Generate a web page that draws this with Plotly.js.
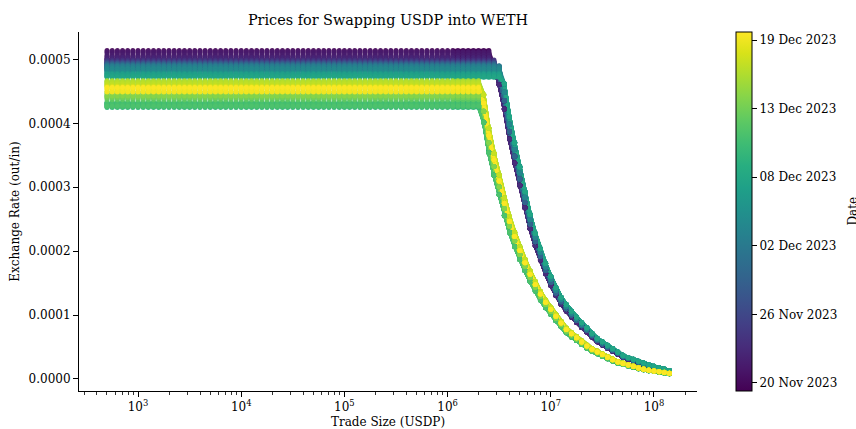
<!DOCTYPE html>
<html><head><meta charset="utf-8">
<script src="https://cdn.plot.ly/plotly-3.0.1.min.js"></script>
<style>html,body{margin:0;padding:0;background:#fff;} #chart{width:856px;height:429px;}</style>
</head><body><div id="chart"></div>
<script>
// Trade sizes (USDP) at which each snapshot quote is plotted
const tradeSizes = [501, 562, 631, 708, 794, 891,
  1000, 1122, 1259, 1413, 1585, 1778, 1995, 2239, 2512, 2818, 3162, 3548, 3981, 4467, 5012, 5623, 6310, 7079, 7943, 8913,
  1.0e4, 1.122e4, 1.259e4, 1.413e4, 1.585e4, 1.778e4, 1.995e4, 2.239e4, 2.512e4, 2.818e4, 3.162e4, 3.548e4, 3.981e4, 4.467e4, 5.012e4, 5.623e4, 6.310e4, 7.079e4, 7.943e4, 8.913e4,
  1.0e5, 1.122e5, 1.259e5, 1.413e5, 1.585e5, 1.778e5, 1.995e5, 2.239e5, 2.512e5, 2.818e5, 3.162e5, 3.548e5, 3.981e5, 4.467e5, 5.012e5, 5.623e5, 6.310e5, 7.079e5, 7.943e5, 8.913e5,
  1.0e6, 1.122e6, 1.259e6, 1.413e6, 1.585e6, 1.778e6, 1.995e6, 2.239e6, 2.512e6, 2.818e6, 3.162e6, 3.548e6, 3.981e6, 4.467e6, 5.012e6, 5.623e6, 6.310e6, 7.079e6, 7.943e6, 8.913e6,
  1.0e7, 1.122e7, 1.259e7, 1.413e7, 1.585e7, 1.778e7, 1.995e7, 2.239e7, 2.512e7, 2.818e7, 3.162e7, 3.548e7, 3.981e7, 4.467e7, 5.012e7, 5.623e7, 6.310e7, 7.079e7, 7.943e7, 8.913e7,
  1.0e8, 1.122e8, 1.259e8, 1.413e8];

// Price-impact curves, for the last 40 trade sizes (1.585e6 .. 1.413e8)
const earlyCurve = [0.000600, 0.000590, 0.000580, 0.000565, 0.000540, 0.000508, 0.000480, 0.000440, 0.000391, 0.000352,
  0.000316, 0.000279, 0.000245, 0.000217, 0.000194, 0.000172, 0.000153, 0.000136, 0.000122, 0.000111,
  0.000101, 0.0000925, 0.0000840, 0.0000765, 0.0000683, 0.0000608, 0.0000555, 0.0000503, 0.0000453, 0.0000402,
  0.0000352, 0.0000322, 0.0000293, 0.0000265, 0.0000237, 0.0000211, 0.0000189, 0.0000167, 0.0000147, 0.0000128];
const lateCurve = [0.000560, 0.000520, 0.000478, 0.000432, 0.000381, 0.000343, 0.000310, 0.000275, 0.000247, 0.000223,
  0.000201, 0.000182, 0.000164, 0.000148, 0.000133, 0.000120, 0.000109, 0.0000980, 0.0000877, 0.0000776,
  0.0000708, 0.0000646, 0.0000580, 0.0000517, 0.0000464, 0.0000424, 0.0000384, 0.0000342, 0.0000302, 0.0000266,
  0.0000243, 0.0000220, 0.0000196, 0.0000173, 0.0000154, 0.0000138, 0.0000126, 0.0000113, 0.0000101, 0.0000089];

// Snapshot times (days after 20 Nov 2023 00:00 UTC) and the flat small-trade rate at each
const snapTime = [0.05,0.45,0.8, 1.15,1.5,1.85, 2.15,2.5,2.85, 3.15,3.5,3.85, 4.15,4.5,4.85, 5.15,5.5,5.85,
  6.15,6.5,6.85, 7.15,7.5,7.85, 8.15,8.5,8.85, 9.15,9.5,9.85, 10.15,10.5,10.85, 11.15,11.5,11.85,
  12.15,12.5,12.85, 13.15,13.5,13.85, 14.15,14.5,14.85, 15.15,15.5,15.85, 16.15,16.5,16.85, 17.15,17.5,17.85,
  18.15,18.5,18.85, 19.15,19.5,19.85, 20.15,20.5,20.85, 21.15,21.5,21.85, 22.15,22.5,22.85, 23.15,23.5,23.85,
  24.15,24.5,24.85, 25.15,25.5,25.85, 26.15,26.5,26.85, 27.15,27.5,27.85, 28.15,28.5,28.85, 29.15,29.5,29.85, 30.3];
const snapLevel = [0.000514,0.000505,0.000500, 0.000510,0.000502,0.000497, 0.000512,0.000507,0.000500,
  0.000503,0.000499,0.000495, 0.000499,0.000495,0.000491, 0.000497,0.000493,0.000489,
  0.000496,0.000492,0.000488, 0.000495,0.000491,0.000487, 0.000494,0.000490,0.000486,
  0.000493,0.000489,0.000485, 0.000492,0.000488,0.000484, 0.000491,0.000487,0.000483,
  0.000490,0.000486,0.000482, 0.000489,0.000485,0.000481, 0.000486,0.000482,0.000479,
  0.000479,0.000476,0.000474, 0.000478,0.000475,0.000473, 0.000477,0.000474,0.000472,
  0.000432,0.000429,0.000426, 0.000431,0.000428,0.000425, 0.000432,0.000429,0.000426,
  0.000433,0.000430,0.000427, 0.000443,0.000440,0.000437, 0.000446,0.000443,0.000440,
  0.000449,0.000446,0.000443, 0.000467,0.000464,0.000461, 0.000466,0.000463,0.000460,
  0.000465,0.000462,0.000459, 0.000458,0.000454,0.000450, 0.000457,0.000453,0.000449, 0.000456];
// Which curve each day follows, and its horizontal placement factor
const dayCurve = ['E','E','E','E','E','E','E','E','E','E','E','E','E','E','E','E','E','E',
  'L','L','L','L','L','L','L','L','L','L','L','L','L'];
const dayCurveScale = [0.96,0.96,0.96,0.96, 0.99,0.99,0.99,0.99,0.99,0.99, 1.02,1.02,1.02,1.02, 1.05,1.05,1.05,1.05,
  0.93,0.93,0.93,0.93, 0.97,0.97,0.97, 1.03,1.03,1.03, 1.0,1.0,1.0];

const colorTickVals = [0.713, 6.5, 12.287, 18.074, 23.861, 29.648];
const colorTickText = ['20 Nov 2023','26 Nov 2023','02 Dec 2023','08 Dec 2023','13 Dec 2023','19 Dec 2023'];
const xTickVals = [1e3, 1e4, 1e5, 1e6, 1e7, 1e8];
const xTickText = ['10<sup>3</sup>','10<sup>4</sup>','10<sup>5</sup>','10<sup>6</sup>','10<sup>7</sup>','10<sup>8</sup>'];
const yTickVals = [0, 0.0001, 0.0002, 0.0003, 0.0004, 0.0005];

// viridis stops (style) used to colour the connecting lines like the markers
const viridisStops = [[0,'#440154'],[0.0627,'#48186a'],[0.1255,'#472d7b'],[0.1882,'#424086'],[0.2510,'#3b528b'],
  [0.3137,'#33638d'],[0.3765,'#2c728e'],[0.4392,'#26828e'],[0.5020,'#21918c'],[0.5647,'#1fa088'],[0.6275,'#28ae80'],
  [0.6902,'#3fbc73'],[0.7529,'#5ec962'],[0.8157,'#84d44b'],[0.8784,'#addc30'],[0.9412,'#d8e219'],[1,'#fde725']];
const CMIN = 0.036, CMAX = 30.325;
function hex(h){return [parseInt(h.slice(1,3),16),parseInt(h.slice(3,5),16),parseInt(h.slice(5,7),16)];}
function viridis(v){
  const f = Math.max(0, Math.min(1, (v - CMIN) / (CMAX - CMIN)));
  for (let j = 1; j < viridisStops.length; j++) {
    if (f <= viridisStops[j][0]) {
      const a = viridisStops[j-1], b = viridisStops[j];
      const u = (f - a[0]) / (b[0] - a[0]);
      const ca = hex(a[1]), cb = hex(b[1]);
      return 'rgb(' + ca.map((c, q) => Math.round(c + (cb[q] - c) * u)).join(',') + ')';
    }
  }
  return '#fde725';
}

const xs = [], ys = [], cs = [];
const lineTraces = [];
const off = tradeSizes.length - earlyCurve.length;
snapTime.forEach((t, s) => {
  const d = Math.floor(t);
  const curve = dayCurve[d] === 'E' ? earlyCurve : lateCurve;
  const k = dayCurveScale[d];
  const lx = [], ly = [];
  tradeSizes.forEach((x, i) => {
    let y = snapLevel[s];
    if (i >= off) y = Math.min(y, curve[i - off] * k);
    xs.push(x); ys.push(y); cs.push(t);
    if (i >= off - 3) { lx.push(x); ly.push(y); }
  });
  lineTraces.push({type: 'scatter', mode: 'lines', x: lx, y: ly, hoverinfo: 'skip', showlegend: false,
    line: {color: viridis(t), width: 3.6}, opacity: 0.9});
});

const minorVals = [];
for (let e = 2; e <= 8; e++) for (let m = 2; m <= 9; m++) { const v = m * Math.pow(10, e); if (v > 268 && v < 2.6e8) minorVals.push(v); }

const F = 'DejaVu Serif';
const font = {family: F, size: 12, color: '#000'};

const markerTrace = {
  type: 'scatter', mode: 'markers', x: xs, y: ys, hoverinfo: 'skip', showlegend: false,
  marker: {
    color: cs, colorscale: 'Viridis', cmin: CMIN, cmax: CMAX, size: 5, opacity: 0.9, line: {width: 0},
    colorbar: {
      x: (736 - 79) / 618, xanchor: 'left', xpad: 0, ypad: 0, y: 0.5, yanchor: 'middle',
      len: 359, lenmode: 'pixels', thickness: 16, thicknessmode: 'pixels',
      outlinewidth: 1, outlinecolor: '#000', tickvals: colorTickVals, ticktext: colorTickText,
      ticks: 'outside', ticklen: 5, tickwidth: 1, tickcolor: '#000', tickfont: font,
      title: {text: '', font: font}
    }
  }
};

const layout = {
  width: 856, height: 429,
  margin: {l: 79, r: 159, t: 32, b: 38, pad: 0},
  paper_bgcolor: '#fff', plot_bgcolor: '#fff',
  font: font, showlegend: false,
  title: {text: 'Prices for Swapping USDP into WETH', font: {family: F, size: 14.4, color: '#000'},
    x: 388 / 856, xanchor: 'center', xref: 'container', y: 1 - 20 / 429, yanchor: 'middle', yref: 'container'},
  xaxis: {
    type: 'log', range: [2.428, 8.417], showline: true, linecolor: '#000', linewidth: 1, mirror: false,
    showgrid: false, zeroline: false, ticks: 'outside', ticklen: 5, tickwidth: 1, tickcolor: '#000',
    tickmode: 'array', tickvals: xTickVals, ticktext: xTickText, tickfont: font,
    minor: {tickmode: 'array', tickvals: minorVals, ticks: 'outside', ticklen: 3, tickwidth: 0.8, tickcolor: '#000', showgrid: false},
    title: {text: 'Trade Size (USDP)', font: font, standoff: 4}, automargin: false
  },
  yaxis: {
    range: [-0.0000188, 0.000543], showline: true, linecolor: '#000', linewidth: 1, mirror: false,
    showgrid: false, zeroline: false, ticks: 'outside', ticklen: 5, tickwidth: 1, tickcolor: '#000',
    tickmode: 'array', tickvals: yTickVals, tickformat: '.4f', tickfont: font,
    title: {text: 'Exchange Rate (out/in)', font: font, standoff: 6}, automargin: false
  },
  annotations: [{text: 'Date', xref: 'paper', yref: 'paper', x: (852 - 79) / 618, y: 0.5,
    xanchor: 'center', yanchor: 'middle', textangle: -90, showarrow: false, font: font}]
};

Plotly.newPlot('chart', lineTraces.concat([markerTrace]), layout, {staticPlot: true, displayModeBar: false});
</script>
</body></html>
